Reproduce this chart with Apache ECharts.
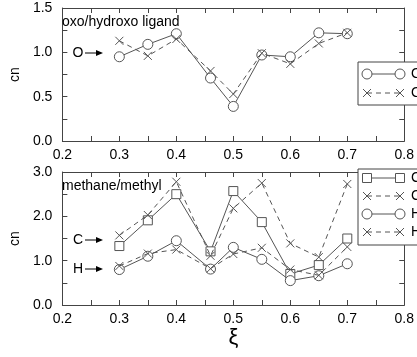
<!DOCTYPE html>
<html>
<head>
<meta charset="utf-8">
<script src="https://cdn.jsdelivr.net/npm/echarts@6/dist/echarts.min.js"></script>
<style>html,body{margin:0;padding:0;background:#fff;}#c{width:417px;height:357px;}</style>
</head>
<body>
<div id="c"></div>
<script>
// x positions (xi)
const xi = [0.3, 0.35, 0.4, 0.46, 0.5, 0.55, 0.6, 0.65, 0.7];
// top panel: oxo/hydroxo ligand
const oxoCircle = [0.95, 1.09, 1.21, 0.71, 0.39, 0.97, 0.95, 1.22, 1.21];
const oxoCross  = [1.13, 0.96, 1.15, 0.79, 0.53, 0.99, 0.87, 1.10, 1.22];
// bottom panel: methane/methyl
const cSquare = [1.33, 1.91, 2.50, 1.21, 2.57, 1.87, 0.70, 0.90, 1.50];
const cCross  = [1.57, 2.03, 2.78, 1.11, 2.18, 2.75, 1.39, 1.08, 2.73];
const hCircle = [0.80, 1.10, 1.45, 0.81, 1.30, 1.03, 0.55, 0.66, 0.93];
const hCross  = [0.88, 1.16, 1.25, 0.82, 1.15, 1.29, 0.80, 0.67, 1.31];
// tick labels
const xTicks = [0.2, 0.3, 0.4, 0.5, 0.6, 0.7, 0.8];
const topYTicks = [0.0, 0.5, 1.0, 1.5];
const botYTicks = [0.0, 1.0, 2.0, 3.0];
const topLegend = ['O', 'O'];
const botLegend = ['C', 'C', 'H', 'H'];

const FONT = 'Liberation Sans';
const LINE = '#555';
const AX = '#444';
const crossPath = 'path://M0,0L10,10M10,0L0,10';

function zip(ys){ return xi.map((x,i)=>[x, ys[i]]); }

function xAx(grid, pos, labels, extra){
  return Object.assign({
    type:'value', gridIndex:grid, position:pos, min:xTicks[0], max:xTicks[xTicks.length-1], interval:0.1,
    axisLine:{show:true, onZero:false, lineStyle:{color:AX, width:1}},
    axisTick:{show:true, inside:true, length:5, lineStyle:{color:AX}},
    minorTick:{show:true, splitNumber:2, length:5, lineStyle:{color:AX}},
    splitLine:{show:false},
    axisLabel:{show:labels, color:'#000', fontFamily:FONT, fontSize:14, margin:7,
      formatter:v=>v.toFixed(1), showMaxLabel:true, showMinLabel:true}
  }, extra||{});
}
function yAx(grid, pos, labels, ticks, interval, extra){
  return Object.assign({
    type:'value', gridIndex:grid, position:pos, min:ticks[0], max:ticks[ticks.length-1], interval:interval,
    axisLine:{show:true, onZero:false, lineStyle:{color:AX, width:1}},
    axisTick:{show:true, inside:true, length:5, lineStyle:{color:AX}},
    minorTick:{show:true, splitNumber:2, length:5, lineStyle:{color:AX}},
    splitLine:{show:false},
    axisLabel:{show:labels, color:'#000', fontFamily:FONT, fontSize:14, margin:10,
      formatter:v=>v.toFixed(1)}
  }, extra||{});
}

function ser(name, xa, ya, ys, kind, dashed){
  const s = {
    name:name, type:'line', xAxisIndex:xa, yAxisIndex:ya, data:zip(ys),
    lineStyle:{color:LINE, width:1, type: dashed ? [5,4] : 'solid'},
    showAllSymbol:true, animation:false, silent:true, z: dashed?3:2
  };
  if (kind==='circle'){ s.symbol='circle'; s.symbolSize=10; s.itemStyle={color:'#fff', borderColor:LINE, borderWidth:1}; }
  else if (kind==='square'){ s.symbol='rect'; s.symbolSize=9; s.itemStyle={color:'#fff', borderColor:LINE, borderWidth:1}; }
  else { s.symbol=crossPath; s.symbolSize=8; s.itemStyle={color:LINE, borderColor:LINE, borderWidth:1}; }
  return s;
}

// legend & annotation graphics
const g = [];
function legendBox(x, y, w, h){ g.push({type:'rect', shape:{x:x, y:y, width:w, height:h}, style:{fill:'#fff', stroke:AX, lineWidth:1}, z:10}); }
function legendRow(y, kind, dashed, label){
  g.push({type:'line', shape:{x1:367, y1:y, x2:400, y2:y}, style:{stroke:LINE, lineWidth:1, lineDash: dashed?[5,4]:null}, z:11});
  [367,400].forEach(cx=>{
    if (kind==='circle') g.push({type:'circle', shape:{cx:cx, cy:y, r:5}, style:{fill:'#fff', stroke:LINE, lineWidth:1}, z:12});
    else if (kind==='square') g.push({type:'rect', shape:{x:cx-4.5, y:y-4.5, width:9, height:9}, style:{fill:'#fff', stroke:LINE, lineWidth:1}, z:12});
    else { g.push({type:'line', shape:{x1:cx-4, y1:y-4, x2:cx+4, y2:y+4}, style:{stroke:LINE, lineWidth:1}, z:12});
           g.push({type:'line', shape:{x1:cx-4, y1:y+4, x2:cx+4, y2:y-4}, style:{stroke:LINE, lineWidth:1}, z:12}); }
  });
  g.push({type:'text', x:411, y:y, style:{text:label, font:'14px '+FONT, fill:'#000', verticalAlign:'middle', align:'left'}, z:12});
}
function arrowNote(label, y){
  g.push({type:'text', x:78, y:y, style:{text:label, font:'14px '+FONT, fill:'#000', align:'center', verticalAlign:'middle'}, z:10});
  g.push({type:'line', shape:{x1:85, y1:y, x2:97, y2:y}, style:{stroke:'#000', lineWidth:1}, z:10});
  g.push({type:'polygon', shape:{points:[[96,y-3],[103,y],[96,y+3]]}, style:{fill:'#000'}, z:10});
}

legendBox(358, 62, 80, 43);
legendRow(74, 'circle', false, topLegend[0]);
legendRow(93, 'cross', true, topLegend[1]);
legendBox(358, 169, 80, 76);
legendRow(178, 'square', false, botLegend[0]);
legendRow(196, 'cross', true, botLegend[1]);
legendRow(214, 'circle', false, botLegend[2]);
legendRow(232, 'cross', true, botLegend[3]);
arrowNote('O', 53);
arrowNote('C', 240);
arrowNote('H', 269);
g.push({type:'text', x:62, y:22, style:{text:'oxo/hydroxo ligand', font:'14px '+FONT, fill:'#000', verticalAlign:'middle'}, z:10});
g.push({type:'text', x:62, y:186, style:{text:'methane/methyl', font:'14px '+FONT, fill:'#000', verticalAlign:'middle'}, z:10});

const chart = echarts.init(document.getElementById('c'), null, {renderer:'canvas'});
chart.setOption({
  animation:false,
  backgroundColor:'#fff',
  grid:[
    {left:55, top:8, width:352, height:133},
    {left:55, top:172, width:352, height:133}
  ],
  xAxis:[
    xAx(0,'bottom',true),
    xAx(0,'top',false),
    xAx(1,'bottom',true,{name:'ξ', nameLocation:'middle', nameGap:17, nameTextStyle:{fontFamily:FONT, fontSize:22, color:'#000'}}),
    xAx(1,'top',false)
  ],
  yAxis:[
    yAx(0,'left',true,topYTicks,0.5,{name:'cn', nameLocation:'middle', nameGap:36, nameTextStyle:{fontFamily:FONT, fontSize:14, color:'#000'}}),
    yAx(0,'right',false,topYTicks,0.5),
    yAx(1,'left',true,botYTicks,1.0,{name:'cn', nameLocation:'middle', nameGap:36, nameTextStyle:{fontFamily:FONT, fontSize:14, color:'#000'}}),
    yAx(1,'right',false,botYTicks,1.0)
  ],
  series:[
    ser('O', 0, 0, oxoCircle, 'circle', false),
    ser('O ', 0, 0, oxoCross, 'cross', true),
    ser('C', 2, 2, cSquare, 'square', false),
    ser('C ', 2, 2, cCross, 'cross', true),
    ser('H', 2, 2, hCircle, 'circle', false),
    ser('H ', 2, 2, hCross, 'cross', true)
  ],
  graphic:g
});
</script>
</body>
</html>
